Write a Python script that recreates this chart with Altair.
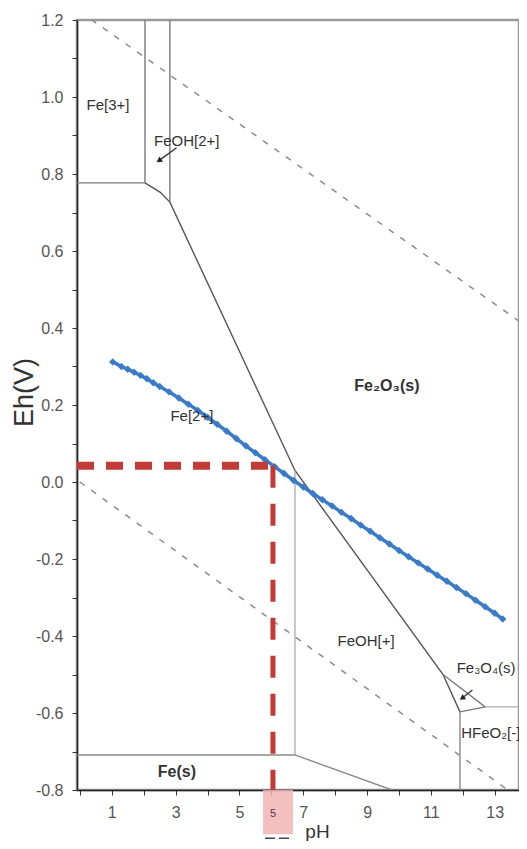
import altair as alt
import pandas as pd

# ---------------- data ----------------
# measured Eh-pH trajectory (blue, diamond markers)
blue_ph = [1.03, 1.3, 1.5, 1.7, 1.9, 2.1, 2.3, 2.5, 2.8, 3.1, 3.4, 3.7, 4.0, 4.3,
           4.6, 4.9, 5.2, 5.5, 5.8, 6.1, 6.4, 6.7, 7.0, 7.3, 7.6, 7.9, 8.2, 8.5,
           8.8, 9.1, 9.4, 9.7, 10.0, 10.3, 10.6, 10.9, 11.2, 11.5, 11.8, 12.1,
           12.4, 12.7, 13.0, 13.25]
blue_eh = [0.312, 0.300, 0.293, 0.285, 0.277, 0.268, 0.258, 0.248, 0.234, 0.218,
           0.202, 0.186, 0.168, 0.150, 0.132, 0.113, 0.094, 0.076, 0.058, 0.040,
           0.022, 0.004, -0.013, -0.030, -0.046, -0.062, -0.079, -0.095, -0.112,
           -0.128, -0.145, -0.161, -0.178, -0.194, -0.210, -0.226, -0.242, -0.258,
           -0.274, -0.290, -0.307, -0.324, -0.341, -0.356]

# stability-field boundaries (solid polylines)
seg_names = ["fe3_feoh2", "feoh2_fe2o3", "fe3_fe2", "fe2o3_main", "fe2_feoh",
             "fe_s", "fe3o4", "hfeo2_v", "hfeo2_h"]
seg_ph = [[2.04, 2.04], [2.82, 2.82], [-0.09, 2.04],
          [2.04, 2.51, 2.82, 6.74, 11.38, 11.91], [6.74, 6.74],
          [-0.09, 6.74, 9.78], [11.38, 12.70, 11.91], [11.91, 11.91], [12.70, 14.0]]
seg_eh = [[0.777, 1.2], [0.727, 1.2], [0.777, 0.777],
          [0.777, 0.753, 0.727, 0.030, -0.500, -0.597], [0.030, -0.709],
          [-0.709, -0.709, -0.800], [-0.500, -0.584, -0.597], [-0.597, -0.800],
          [-0.584, -0.584]]
seg_colors = ["#7a7a7a", "#7a7a7a", "#7a7a7a", "#555555", "#b0b0b0",
              "#8a8a8a", "#7a7a7a", "#8a8a8a", "#aaaaaa"]

# water stability lines (dashed)
water_names = ["upper", "lower"]
water_ph = [[0.0, 14.0], [0.0, 14.0]]
water_eh = [[1.222, 0.404], [0.0, -0.835]]

# red reference lines
red_ph = 6.05
red_eh = 0.042

# field labels
lab_text = ["Fe[3+]", "FeOH[2+]", "Fe[2+]", "FeOH[+]", "Fe\u2083O\u2084(s)"]
lab_ph = [0.88, 3.35, 3.51, 8.97, 12.73]
lab_eh = [0.98, 0.886, 0.171, -0.413, -0.483]
bold_text = ["Fe\u2082O\u2083(s)", "Fe(s)"]
bold_ph = [9.62, 3.04]
bold_eh = [0.249, -0.753]
left_text = ["HFeO\u2082[-]"]
left_ph = [11.95]
left_eh = [-0.652]

# arrows (tail -> head)
arrow_ph0 = [3.03, 12.30]
arrow_eh0 = [0.868, -0.540]
arrow_ph1 = [2.50, 12.00]
arrow_eh1 = [0.836, -0.560]
arrow_angle = [235, 235]

# highlighted tick box
box_ph = [5.74, 6.68]
box_eh = [-0.800, -0.915]
box_label = "5"
box_label_eh = -0.862
under_ph = [5.80, 6.65]
under_eh = -0.925

# axes
x_tick_values = list(range(0, 14))
y_tick_values = [-0.8, -0.7, -0.6, -0.5, -0.4, -0.3, -0.2, -0.1, 0.0, 0.1, 0.2,
                 0.3, 0.4, 0.5, 0.6, 0.7, 0.8, 0.9, 1.0, 1.1, 1.2]

# ---------------- build tables ----------------
seg_rows = []
for name, phs, ehs, col in zip(seg_names, seg_ph, seg_eh, seg_colors):
    for i, (p, e) in enumerate(zip(phs, ehs)):
        seg_rows.append({"seg": name, "pH": p, "Eh": e, "o": i, "c": col})
seg_df = pd.DataFrame(seg_rows)

water_rows = []
for name, phs, ehs in zip(water_names, water_ph, water_eh):
    for i, (p, e) in enumerate(zip(phs, ehs)):
        water_rows.append({"seg": name, "pH": p, "Eh": e, "o": i})
water_df = pd.DataFrame(water_rows)

blue_df = pd.DataFrame({"pH": blue_ph, "Eh": blue_eh})
lab_df = pd.DataFrame({"t": lab_text, "pH": lab_ph, "Eh": lab_eh})
bold_df = pd.DataFrame({"t": bold_text, "pH": bold_ph, "Eh": bold_eh})
left_df = pd.DataFrame({"t": left_text, "pH": left_ph, "Eh": left_eh})
arrow_df = pd.DataFrame({"pH": arrow_ph0, "Eh": arrow_eh0, "pH2": arrow_ph1,
                         "Eh2": arrow_eh1, "ang": arrow_angle})
xs_min = -0.09
red_h_df = pd.DataFrame({"pH": [xs_min], "pH2": [red_ph], "Eh": [red_eh]})
red_v_df = pd.DataFrame({"pH": [red_ph], "Eh": [red_eh], "Eh2": [-0.8]})
box_df = pd.DataFrame({"pH": [box_ph[0]], "pH2": [box_ph[1]],
                       "Eh": [box_eh[0]], "Eh2": [box_eh[1]]})
box_lab_df = pd.DataFrame({"pH": [red_ph], "Eh": [box_label_eh], "t": [box_label]})
under_df = pd.DataFrame({"pH": [under_ph[0]], "pH2": [under_ph[1]], "Eh": [under_eh]})

# ---------------- scales / axes ----------------
FONT = "Liberation Sans"
xscale = alt.Scale(domain=[xs_min, 13.76], nice=False, zero=False)
yscale = alt.Scale(domain=[-0.8, 1.2], nice=False, zero=False)

xaxis = alt.Axis(values=x_tick_values,
                 labelExpr="datum.value % 2 == 1 ? datum.value : ''",
                 grid=False, tickSize=5, labelPadding=9, labelFont=FONT,
                 labelFontSize=16, labelColor="#555", tickColor="#333",
                 domainColor="#222", domainWidth=1.5,
                 title="pH", titleFont=FONT, titleFontSize=19,
                 titleFontWeight="normal", titleColor="#333",
                 titleX=240, titleY=47, titleBaseline="alphabetic",
                 titleAlign="center")
yaxis = alt.Axis(values=y_tick_values,
                 labelExpr="round(datum.value*10) % 2 == 0 ? replace(format(datum.value, '.1f'), '\u2212', '-') : ''",
                 grid=False, tickSize=5, labelPadding=9, labelFont=FONT,
                 labelFontSize=16, labelColor="#555", tickColor="#333",
                 domainColor="#222", domainWidth=1.5,
                 title="Eh(V)", titleFont=FONT, titleFontSize=27,
                 titleFontWeight="normal", titleColor="#333",
                 titleX=-53, titleY=372, titleAngle=-90,
                 titleBaseline="middle", titleAlign="center")

X = alt.X("pH:Q", scale=xscale, axis=xaxis)
Y = alt.Y("Eh:Q", scale=yscale, axis=yaxis)

# ---------------- layers ----------------
water = alt.Chart(water_df).mark_line(
    strokeDash=[6, 8], strokeWidth=1.5, color="#8c8c8c", clip=True
).encode(x=X, y=Y, detail="seg:N", order="o:Q")

bounds = alt.Chart(seg_df).mark_line(strokeWidth=1.4, clip=True).encode(
    x=X, y=Y, detail="seg:N", order="o:Q",
    color=alt.Color("c:N", scale=None))

box = alt.Chart(box_df).mark_rect(color="#f4b4b4", opacity=0.85).encode(
    x=X, x2="pH2:Q", y=Y, y2="Eh2:Q")

box_lab = alt.Chart(box_lab_df).mark_text(font=FONT, fontSize=11, color="#444").encode(
    x=X, y=Y, text="t:N")

under = alt.Chart(under_df).mark_rule(color="#444", strokeWidth=1.5, strokeDash=[10, 4]).encode(
    x=X, x2="pH2:Q", y=Y)

blue = alt.Chart(blue_df).mark_line(
    color="#3a7bc8", strokeWidth=3.5,
    point=alt.OverlayMarkDef(shape="diamond", size=55, filled=True, color="#3a7bc8")
).encode(x=X, y=Y)

red_h = alt.Chart(red_h_df).mark_rule(color="#c23b36", strokeWidth=8,
                                      strokeDash=[17, 12]).encode(x=X, x2="pH2:Q", y=Y)
red_v = alt.Chart(red_v_df).mark_rule(color="#c23b36", strokeWidth=5,
                                      strokeDash=[22, 16]).encode(x=X, y=Y, y2="Eh2:Q")

labels = alt.Chart(lab_df).mark_text(font=FONT, fontSize=15, color="#333").encode(
    x=X, y=Y, text="t:N")
bold_labels = alt.Chart(bold_df).mark_text(font=FONT, fontSize=16, fontWeight="bold",
                                           color="#333").encode(x=X, y=Y, text="t:N")
left_labels = alt.Chart(left_df).mark_text(font=FONT, fontSize=15, color="#333",
                                           align="left").encode(x=X, y=Y, text="t:N")

arrow_lines = alt.Chart(arrow_df).mark_rule(color="#333", strokeWidth=1.3).encode(
    x=X, y=Y, x2="pH2:Q", y2="Eh2:Q")
arrow_heads = alt.Chart(arrow_df).mark_point(shape="triangle", filled=True, size=40,
                                             color="#222", opacity=1).encode(
    x=alt.X("pH2:Q", scale=xscale, axis=xaxis),
    y=alt.Y("Eh2:Q", scale=yscale, axis=yaxis),
    angle=alt.Angle("ang:Q", scale=None))

chart = alt.layer(
    water, bounds, box, box_lab, under, blue, red_h, red_v,
    labels, bold_labels, left_labels, arrow_lines, arrow_heads
).properties(
    width=442, height=770,
    autosize=alt.AutoSizeParams(type="none"),
    padding={"left": 69, "top": 12, "right": 0, "bottom": 51},
    background="white",
).configure_view(stroke="#9a9a9a", strokeWidth=2.5)

chart.save("out.html", embed_options={"renderer": "svg", "actions": False})
